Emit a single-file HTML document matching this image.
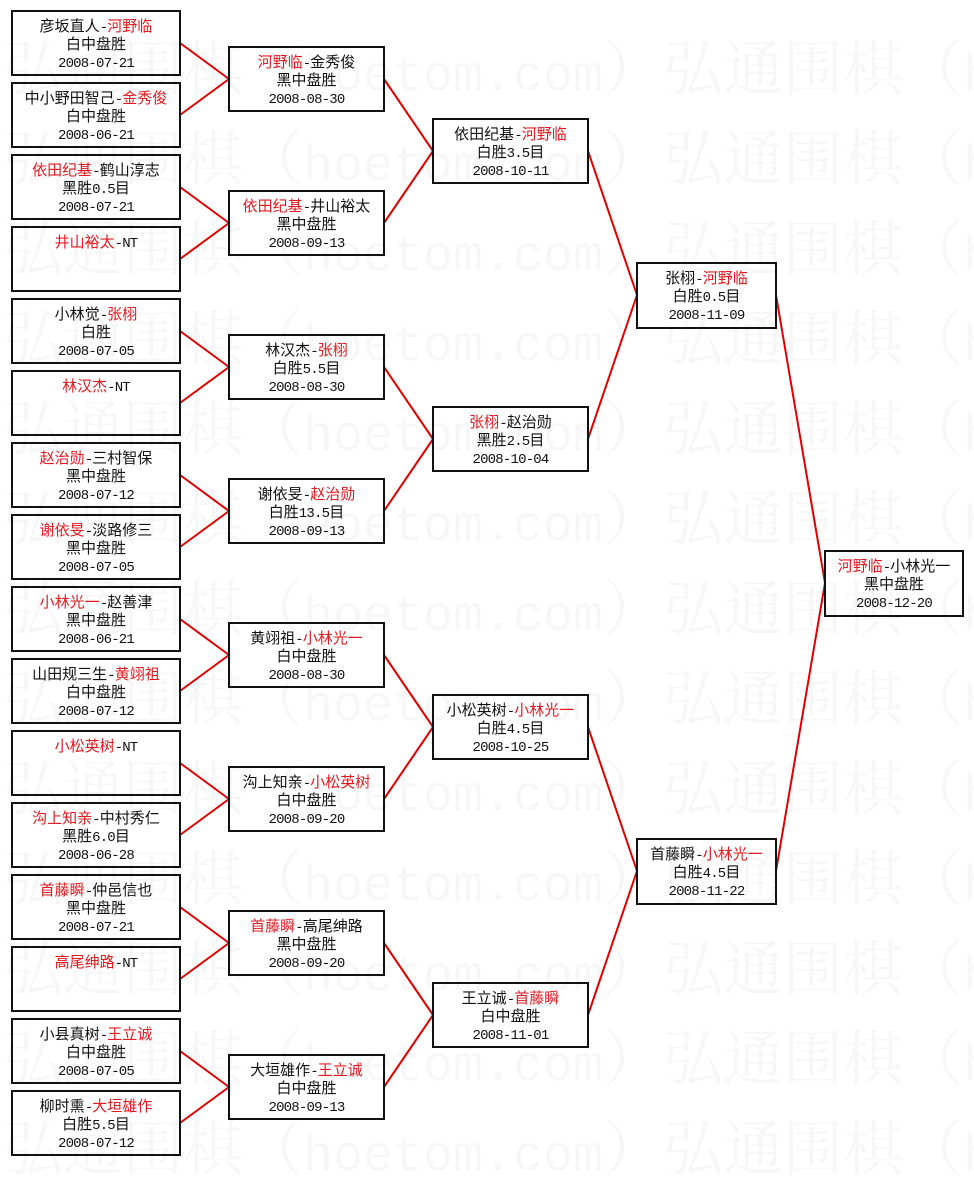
<!DOCTYPE html>
<html><head><meta charset="utf-8"><style>
html,body{margin:0;padding:0;background:#fff;}
body{width:974px;height:1165px;position:relative;overflow:hidden;font-family:"Liberation Sans","Noto Sans CJK SC",sans-serif;}
.wm{position:absolute;left:3px;white-space:nowrap;font-family:"Noto Serif CJK SC","Noto Sans CJK SC",serif;font-size:60px;line-height:60px;color:#f7f7f7;}
.wm i{font-style:normal;font-family:"Liberation Mono",monospace;font-size:50px;}
svg{position:absolute;left:0;top:0;}
.b{position:absolute;box-sizing:border-box;height:66px;border:2px solid #111;padding-top:5px;text-align:center;font-family:"Noto Sans CJK SC",sans-serif;font-size:15px;color:#111;white-space:nowrap;}
.b p{margin:0;height:18px;line-height:18px;overflow:visible;}
.b i{font-style:normal;font-family:"Liberation Mono",monospace;font-size:14px;letter-spacing:-0.8px;line-height:0;}
.b b{font-weight:normal;color:#e3191f;}
.c1{left:11px;width:170px;}
.c2{left:228px;width:157px;}
.c3{left:432px;width:157px;}
.c4{left:636px;width:141px;height:67px;}
.c5{left:824px;width:140px;height:67px;}
</style></head><body>
<div class="wm" style="top:35px">弘通围棋（<i>hoetom.com</i>）弘通围棋（<i>hoetom.com</i>）</div>
<div class="wm" style="top:125px">弘通围棋（<i>hoetom.com</i>）弘通围棋（<i>hoetom.com</i>）</div>
<div class="wm" style="top:215px">弘通围棋（<i>hoetom.com</i>）弘通围棋（<i>hoetom.com</i>）</div>
<div class="wm" style="top:305px">弘通围棋（<i>hoetom.com</i>）弘通围棋（<i>hoetom.com</i>）</div>
<div class="wm" style="top:395px">弘通围棋（<i>hoetom.com</i>）弘通围棋（<i>hoetom.com</i>）</div>
<div class="wm" style="top:485px">弘通围棋（<i>hoetom.com</i>）弘通围棋（<i>hoetom.com</i>）</div>
<div class="wm" style="top:575px">弘通围棋（<i>hoetom.com</i>）弘通围棋（<i>hoetom.com</i>）</div>
<div class="wm" style="top:665px">弘通围棋（<i>hoetom.com</i>）弘通围棋（<i>hoetom.com</i>）</div>
<div class="wm" style="top:755px">弘通围棋（<i>hoetom.com</i>）弘通围棋（<i>hoetom.com</i>）</div>
<div class="wm" style="top:845px">弘通围棋（<i>hoetom.com</i>）弘通围棋（<i>hoetom.com</i>）</div>
<div class="wm" style="top:935px">弘通围棋（<i>hoetom.com</i>）弘通围棋（<i>hoetom.com</i>）</div>
<div class="wm" style="top:1025px">弘通围棋（<i>hoetom.com</i>）弘通围棋（<i>hoetom.com</i>）</div>
<div class="wm" style="top:1115px">弘通围棋（<i>hoetom.com</i>）弘通围棋（<i>hoetom.com</i>）</div>

<svg width="974" height="1165" viewBox="0 0 974 1165">
<g stroke="#e00000" stroke-width="2" fill="none">
<line x1="180" y1="43" x2="229" y2="79"/><line x1="180" y1="115" x2="229" y2="79"/>
<line x1="180" y1="187" x2="229" y2="223"/><line x1="180" y1="259" x2="229" y2="223"/>
<line x1="180" y1="331" x2="229" y2="367"/><line x1="180" y1="403" x2="229" y2="367"/>
<line x1="180" y1="475" x2="229" y2="511"/><line x1="180" y1="547" x2="229" y2="511"/>
<line x1="180" y1="619" x2="229" y2="655"/><line x1="180" y1="691" x2="229" y2="655"/>
<line x1="180" y1="763" x2="229" y2="799"/><line x1="180" y1="835" x2="229" y2="799"/>
<line x1="180" y1="907" x2="229" y2="943"/><line x1="180" y1="979" x2="229" y2="943"/>
<line x1="180" y1="1051" x2="229" y2="1087"/><line x1="180" y1="1123" x2="229" y2="1087"/>
<line x1="384" y1="79" x2="433" y2="151"/><line x1="384" y1="223" x2="433" y2="151"/>
<line x1="384" y1="367" x2="433" y2="439"/><line x1="384" y1="511" x2="433" y2="439"/>
<line x1="384" y1="655" x2="433" y2="727"/><line x1="384" y1="799" x2="433" y2="727"/>
<line x1="384" y1="943" x2="433" y2="1015"/><line x1="384" y1="1087" x2="433" y2="1015"/>
<line x1="588" y1="151" x2="637" y2="295"/><line x1="588" y1="439" x2="637" y2="295"/>
<line x1="588" y1="727" x2="637" y2="871"/><line x1="588" y1="1015" x2="637" y2="871"/>
<line x1="776" y1="295" x2="825" y2="583"/><line x1="776" y1="871" x2="825" y2="583"/>
</g>
</svg>

<!-- column 1 -->
<div class="b c1" style="top:10px"><p>彦坂直人<i>-</i><b>河野临</b></p><p>白中盘胜</p><p><i>2008-07-21</i></p></div>
<div class="b c1" style="top:82px"><p>中小野田智己<i>-</i><b>金秀俊</b></p><p>白中盘胜</p><p><i>2008-06-21</i></p></div>
<div class="b c1" style="top:154px"><p><b>依田纪基</b><i>-</i>鹤山淳志</p><p>黑胜<i>0.5</i>目</p><p><i>2008-07-21</i></p></div>
<div class="b c1" style="top:226px"><p><b>井山裕太</b><i>-NT</i></p></div>
<div class="b c1" style="top:298px"><p>小林觉<i>-</i><b>张栩</b></p><p>白胜</p><p><i>2008-07-05</i></p></div>
<div class="b c1" style="top:370px"><p><b>林汉杰</b><i>-NT</i></p></div>
<div class="b c1" style="top:442px"><p><b>赵治勋</b><i>-</i>三村智保</p><p>黑中盘胜</p><p><i>2008-07-12</i></p></div>
<div class="b c1" style="top:514px"><p><b>谢依旻</b><i>-</i>淡路修三</p><p>黑中盘胜</p><p><i>2008-07-05</i></p></div>
<div class="b c1" style="top:586px"><p><b>小林光一</b><i>-</i>赵善津</p><p>黑中盘胜</p><p><i>2008-06-21</i></p></div>
<div class="b c1" style="top:658px"><p>山田规三生<i>-</i><b>黄翊祖</b></p><p>白中盘胜</p><p><i>2008-07-12</i></p></div>
<div class="b c1" style="top:730px"><p><b>小松英树</b><i>-NT</i></p></div>
<div class="b c1" style="top:802px"><p><b>沟上知亲</b><i>-</i>中村秀仁</p><p>黑胜<i>6.0</i>目</p><p><i>2008-06-28</i></p></div>
<div class="b c1" style="top:874px"><p><b>首藤瞬</b><i>-</i>仲邑信也</p><p>黑中盘胜</p><p><i>2008-07-21</i></p></div>
<div class="b c1" style="top:946px"><p><b>高尾绅路</b><i>-NT</i></p></div>
<div class="b c1" style="top:1018px"><p>小县真树<i>-</i><b>王立诚</b></p><p>白中盘胜</p><p><i>2008-07-05</i></p></div>
<div class="b c1" style="top:1090px"><p>柳时熏<i>-</i><b>大垣雄作</b></p><p>白胜<i>5.5</i>目</p><p><i>2008-07-12</i></p></div>

<!-- column 2 -->
<div class="b c2" style="top:46px"><p><b>河野临</b><i>-</i>金秀俊</p><p>黑中盘胜</p><p><i>2008-08-30</i></p></div>
<div class="b c2" style="top:190px"><p><b>依田纪基</b><i>-</i>井山裕太</p><p>黑中盘胜</p><p><i>2008-09-13</i></p></div>
<div class="b c2" style="top:334px"><p>林汉杰<i>-</i><b>张栩</b></p><p>白胜<i>5.5</i>目</p><p><i>2008-08-30</i></p></div>
<div class="b c2" style="top:478px"><p>谢依旻<i>-</i><b>赵治勋</b></p><p>白胜<i>13.5</i>目</p><p><i>2008-09-13</i></p></div>
<div class="b c2" style="top:622px"><p>黄翊祖<i>-</i><b>小林光一</b></p><p>白中盘胜</p><p><i>2008-08-30</i></p></div>
<div class="b c2" style="top:766px"><p>沟上知亲<i>-</i><b>小松英树</b></p><p>白中盘胜</p><p><i>2008-09-20</i></p></div>
<div class="b c2" style="top:910px"><p><b>首藤瞬</b><i>-</i>高尾绅路</p><p>黑中盘胜</p><p><i>2008-09-20</i></p></div>
<div class="b c2" style="top:1054px"><p>大垣雄作<i>-</i><b>王立诚</b></p><p>白中盘胜</p><p><i>2008-09-13</i></p></div>

<!-- column 3 -->
<div class="b c3" style="top:118px"><p>依田纪基<i>-</i><b>河野临</b></p><p>白胜<i>3.5</i>目</p><p><i>2008-10-11</i></p></div>
<div class="b c3" style="top:406px"><p><b>张栩</b><i>-</i>赵治勋</p><p>黑胜<i>2.5</i>目</p><p><i>2008-10-04</i></p></div>
<div class="b c3" style="top:694px"><p>小松英树<i>-</i><b>小林光一</b></p><p>白胜<i>4.5</i>目</p><p><i>2008-10-25</i></p></div>
<div class="b c3" style="top:982px"><p>王立诚<i>-</i><b>首藤瞬</b></p><p>白中盘胜</p><p><i>2008-11-01</i></p></div>

<!-- column 4 -->
<div class="b c4" style="top:262px"><p>张栩<i>-</i><b>河野临</b></p><p>白胜<i>0.5</i>目</p><p><i>2008-11-09</i></p></div>
<div class="b c4" style="top:838px"><p>首藤瞬<i>-</i><b>小林光一</b></p><p>白胜<i>4.5</i>目</p><p><i>2008-11-22</i></p></div>

<!-- column 5 -->
<div class="b c5" style="top:550px"><p><b>河野临</b><i>-</i>小林光一</p><p>黑中盘胜</p><p><i>2008-12-20</i></p></div>
</body></html>
